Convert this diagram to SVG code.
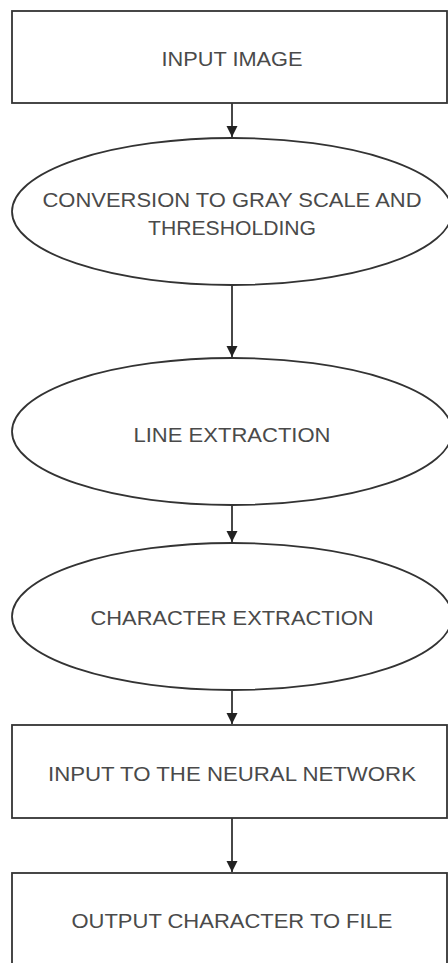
<svg xmlns="http://www.w3.org/2000/svg" width="448" height="963" viewBox="0 0 448 963">
<style>
.shape{fill:#ffffff;stroke:#333333;stroke-width:1.8}
.lbl{font-family:"Liberation Sans",Arial,sans-serif;font-size:20px;fill:#4a4a4a;text-anchor:middle}
.conn{stroke:#333333;stroke-width:1.8;fill:none}
</style>
<defs>
<marker id="ah" markerUnits="userSpaceOnUse" markerWidth="13" markerHeight="13" refX="11" refY="5.5" orient="auto">
<path d="M0,0 L11,5.5 L0,11 Z" fill="#222222"/>
</marker>
</defs>
<rect width="448" height="963" fill="#ffffff"/>
<g id="connectors">
<line class="conn" x1="232" y1="103" x2="232" y2="137" marker-end="url(#ah)"/>
<line class="conn" x1="232" y1="285" x2="232" y2="357" marker-end="url(#ah)"/>
<line class="conn" x1="232" y1="505" x2="232" y2="542" marker-end="url(#ah)"/>
<line class="conn" x1="232" y1="690" x2="232" y2="724" marker-end="url(#ah)"/>
<line class="conn" x1="232" y1="818" x2="232" y2="872" marker-end="url(#ah)"/>
</g>
<g id="input-image">
<rect class="shape" x="12" y="11" width="435" height="92"/>
<text class="lbl" x="232" y="66" textLength="141" lengthAdjust="spacingAndGlyphs">INPUT IMAGE</text>
</g>
<g id="gray-scale">
<ellipse class="shape" cx="232" cy="211.5" rx="220" ry="73.5"/>
<text class="lbl" x="232" y="207" textLength="379" lengthAdjust="spacingAndGlyphs">CONVERSION TO GRAY SCALE AND</text>
<text class="lbl" x="232" y="235" textLength="168" lengthAdjust="spacingAndGlyphs">THRESHOLDING</text>
</g>
<g id="line-extraction">
<ellipse class="shape" cx="232" cy="431.5" rx="220" ry="73.5"/>
<text class="lbl" x="232" y="442" textLength="197" lengthAdjust="spacingAndGlyphs">LINE EXTRACTION</text>
</g>
<g id="character-extraction">
<ellipse class="shape" cx="232" cy="616.5" rx="220" ry="73.5"/>
<text class="lbl" x="232" y="625" textLength="283" lengthAdjust="spacingAndGlyphs">CHARACTER EXTRACTION</text>
</g>
<g id="neural-network">
<rect class="shape" x="12" y="725" width="435" height="93"/>
<text class="lbl" x="232" y="781" textLength="368" lengthAdjust="spacingAndGlyphs">INPUT TO THE NEURAL NETWORK</text>
</g>
<g id="output-file">
<rect class="shape" x="12" y="873" width="435" height="100"/>
<text class="lbl" x="232" y="928" textLength="321" lengthAdjust="spacingAndGlyphs">OUTPUT CHARACTER TO FILE</text>
</g>
</svg>
